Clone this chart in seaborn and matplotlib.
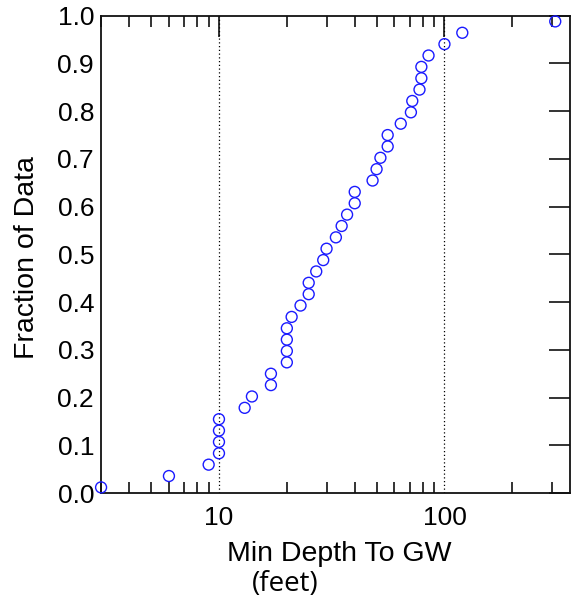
import numpy as np
import pandas as pd
import matplotlib
matplotlib.use("Agg")
import matplotlib.pyplot as plt
import seaborn as sns
from matplotlib.ticker import LogLocator, FixedLocator, NullFormatter, FixedFormatter

sns.set_style("white")
plt.rcParams["font.family"] = ["Liberation Sans", "DejaVu Sans"]
plt.rcParams["text.color"] = "black"
plt.rcParams["axes.labelcolor"] = "black"
plt.rcParams["xtick.color"] = "black"
plt.rcParams["ytick.color"] = "black"

# sorted minimum depth to groundwater (feet)
depth = [3, 6, 9, 10, 10, 10, 10, 13, 14, 17, 17, 20, 20, 20, 20, 21, 23, 25, 25, 27, 29, 30,
         33, 35, 37, 40, 40, 48, 50, 52, 56, 56, 64, 71, 72, 77.5, 79, 79, 85, 100, 120, 310]
n = len(depth)
fraction = [(i - 0.5) / n for i in range(1, n + 1)]
ref_lines = [10, 100]
y_ticks = [round(0.1 * i, 1) for i in range(11)]

df = pd.DataFrame({"depth": depth, "fraction": fraction})

fig = plt.figure(figsize=(5.71, 6.05), dpi=100)
ax = fig.add_axes([0.177, 0.185, 0.822, 0.789])

for xv in ref_lines:
    ax.axvline(xv, color="black", linestyle=(0, (1, 2)), linewidth=0.9, zorder=1)

sns.scatterplot(data=df, x="depth", y="fraction", ax=ax, marker="o", s=62,
                facecolor="none", edgecolor="#1a1aff", linewidth=1.0, zorder=3,
                clip_on=False)

ax.set_xscale("log")
ax.set_xlim(3, 362)
ax.set_ylim(0, 1.0)

ax.xaxis.set_major_locator(FixedLocator([10, 100]))
ax.xaxis.set_major_formatter(FixedFormatter(["10", "100"]))
ax.xaxis.set_minor_locator(LogLocator(base=10, subs=np.arange(2, 10)))
ax.xaxis.set_minor_formatter(NullFormatter())
ax.set_yticks(y_ticks)
ax.set_yticklabels([f"{v:.1f}" for v in y_ticks])

ax.tick_params(axis="both", which="major", direction="in", length=15, width=1.2,
               top=True, right=True, labelsize=19, pad=5, color="#111111")
ax.tick_params(axis="x", which="minor", direction="in", length=8, width=1.2,
               top=True, bottom=True, color="#111111")
ax.tick_params(axis="x", which="major", pad=9)

for sp in ax.spines.values():
    sp.set_linewidth(1.3)
    sp.set_color("#111111")

ax.set_xlabel("")
ax.set_ylabel("")

fig.text(0.048, 0.575, "Fraction of Data", fontsize=20.5, ha="center", va="center",
         rotation=90)
fig.text(0.595, 0.085, "Min Depth To GW", fontsize=20.5, ha="center", va="center")
fig.text(0.5, 0.035, "(feet)", fontsize=20, ha="center", va="center",
         family=["Open Sans", "DejaVu Sans"])

fig.savefig("out.png", dpi=100)
